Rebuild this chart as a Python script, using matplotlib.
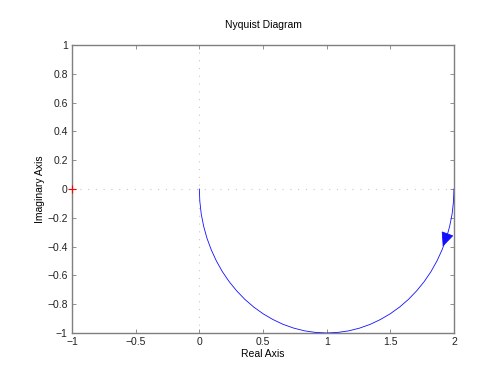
import matplotlib
matplotlib.use('Agg')
import matplotlib.pyplot as plt
from matplotlib.ticker import FuncFormatter

plt.rcParams['font.family'] = ['Liberation Sans', 'DejaVu Sans']

# Nyquist curve points (lower half circle, 0 -> 2)
re_pts = [0.0, 0.004, 0.015, 0.034, 0.06, 0.094, 0.134, 0.181, 0.234, 0.293,
          0.357, 0.426, 0.5, 0.577, 0.658, 0.741, 0.826, 0.913, 1.0,
          1.087, 1.174, 1.259, 1.342, 1.423, 1.5, 1.574, 1.643, 1.707,
          1.766, 1.819, 1.866, 1.906, 1.94, 1.966, 1.985, 1.996, 2.0]
im_pts = [0.0, -0.087, -0.174, -0.259, -0.342, -0.423, -0.5, -0.574, -0.643, -0.707,
          -0.766, -0.819, -0.866, -0.906, -0.94, -0.966, -0.985, -0.996, -1.0,
          -0.996, -0.985, -0.966, -0.94, -0.906, -0.866, -0.819, -0.766, -0.707,
          -0.643, -0.574, -0.5, -0.423, -0.342, -0.259, -0.174, -0.087, 0.0]

# arrow on the curve (tail -> head)
arrow_tail = (1.945, -0.32)
arrow_head = (1.912, -0.40)

critical_pt = (-1, 0)

x_ticks = [-1, -0.5, 0, 0.5, 1, 1.5, 2]
y_ticks = [-1, -0.8, -0.6, -0.4, -0.2, 0, 0.2, 0.4, 0.6, 0.8, 1]

GREY = '#7f7f7f'
BLUE = '#1010ff'

fig = plt.figure(figsize=(5, 3.75), dpi=100, facecolor='white')
ax = fig.add_axes([0.144, 0.112, 0.764, 0.768])

# zero grid lines
ax.axhline(0, color='#c8c8c8', linestyle=(0, (1, 6)), linewidth=0.8, zorder=1)
ax.axvline(0, color='#c8c8c8', linestyle=(0, (1, 6)), linewidth=0.8, zorder=1)

ax.plot(re_pts, im_pts, color=BLUE, linewidth=0.6, zorder=3)
ax.annotate('', xy=arrow_head, xytext=arrow_tail,
            arrowprops=dict(arrowstyle='-|>,head_length=0.9,head_width=0.4',
                            color=BLUE, lw=0.6, shrinkA=0, shrinkB=0), zorder=4)
ax.plot([critical_pt[0]], [critical_pt[1]], marker='+', color='red',
        markersize=6, markeredgewidth=0.8, clip_on=False, zorder=5)

ax.set_xlim(-1, 2)
ax.set_ylim(-1, 1)
ax.set_xticks(x_ticks)
ax.set_yticks(y_ticks)
fmt = FuncFormatter(lambda v, p: ('%g' % v).replace('-', '\u2212'))
ax.xaxis.set_major_formatter(fmt)
ax.yaxis.set_major_formatter(fmt)

for s in ax.spines.values():
    s.set_color(GREY)
    s.set_linewidth(1.0)
ax.tick_params(direction='in', length=3, width=0.6, color=GREY,
               labelsize=7.5, labelcolor='#222222', top=True, right=True, pad=3)

ax.set_title('Nyquist Diagram', fontsize=7.5, pad=12)
ax.set_xlabel('Real Axis', fontsize=7.5, labelpad=1)
ax.set_ylabel('Imaginary Axis', fontsize=7.5, labelpad=2)

fig.savefig('out.png', dpi=100, facecolor='white')
